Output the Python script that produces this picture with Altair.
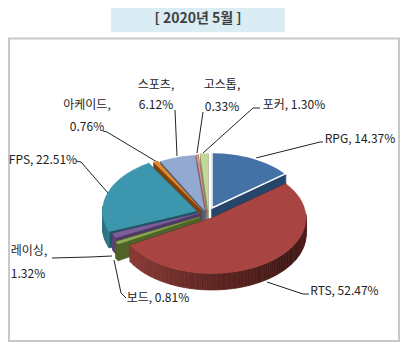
import math
import altair as alt

# ---- chart data -------------------------------------------------
categories = ["RPG", "RTS", "보드", "레이싱", "FPS", "아케이드", "스포츠", "고스톱", "포커"]
shares = [14.37, 52.47, 0.81, 1.32, 22.51, 0.76, 6.12, 0.33, 1.30]
title_text = "[ 2020년 5월 ]"
label_lines = [
    ["RPG, 14.37%"], ["RTS, 52.47%"], ["보드, 0.81%"], ["레이싱,", "1.32%"], ["FPS, 22.51%"],
    ["아케이드,", "0.76%"], ["스포츠,", "6.12%"], ["고스톱,", "0.33%"], ["포커, 1.30%"],
]

# ---- styling / layout -------------------------------------------
W, H = 392, 334
FONT = "Noto Sans CJK KR"
top_colors = ["#4472a6", "#a84542", "#8aab4e", "#7d5f9e", "#3c97ae", "#e58a2e", "#93a9d0", "#d99694", "#c4d79b"]
wall_colors = ["#2b4a6f", "#6a2a27", "#4f6228", "#5a4374", "#2f7485", "#8b4a10", "#5d6f90", "#8f5553", "#7f8f60"]
radial_colors = ["#26456a", "#5a2522", "#4f6228", "#4f3a66", "#1f5666", "#7c4210", "#4d5f80", "#8f5553", "#7f8f60"]
apexes = [(212, 208), (212, 218), (200, 217), (200, 213), (196.5, 211), (201.5, 210), (204.5, 210.5), (206, 210), (208, 209)]
RX, RY, DEPTH = 94, 55.5, 16.5
draw_order = [8, 7, 6, 5, 0, 4, 3, 2, 1]
label_pos = {0: [(360, 139)], 1: [(344.5, 291)], 2: [(158, 298)], 3: [(29, 251), (28, 274)], 4: [(43, 160)],
             5: [(87, 105), (87, 127)], 6: [(156, 85), (156, 105)], 7: [(222, 85), (222, 106.5)], 8: [(294, 105)]}
leaders = {
    0: [(256, 158), (320, 142), (323, 142)],
    1: [(267, 282), (303, 294), (309, 294)],
    2: [(114, 260), (121, 293), (126, 298)],
    3: [(112, 256), (90, 257), (52, 258)],
    4: [(108, 193), (81, 162), (76, 161)],
    5: [(157, 162), (107, 132), (103, 131)],
    6: [(177, 156), (175, 110)],
    7: [(197, 153), (203, 112)],
    8: [(203, 153), (253, 108), (260, 108)],
}


def lerp_hex(a, b, t):
    ca = [int(a[i:i + 2], 16) for i in (1, 3, 5)]
    cb = [int(b[i:i + 2], 16) for i in (1, 3, 5)]
    return "#" + "".join(f"{round(x + (y - x) * t):02x}" for x, y in zip(ca, cb))


def rts_shade(deg):
    stops = [(85, "#5c2623"), (125, "#401815"), (180, "#5f2522"), (240, "#8c3b37")]
    for (d0, c0), (d1, c1) in zip(stops, stops[1:]):
        if deg <= d1:
            return lerp_hex(c0, c1, max(0, (deg - d0) / (d1 - d0)))
    return stops[-1][1]


def rim(i, deg, drop=0.0):
    ax, ay = apexes[i]
    r = math.radians(deg)
    return (ax + RX * math.sin(r) - 8, ay - RY * math.cos(r) + drop - 8)


def poly(points, fill, stroke=None, sw=0.7):
    ring = [list(p) for p in points] + [list(points[0])]
    return {"type": "Feature", "geometry": {"type": "Polygon", "coordinates": [ring]},
            "properties": {"fill": fill, "stroke": stroke or fill, "sw": sw}}


starts = []
c = 0.0
for s in shares:
    starts.append(c)
    c += s
total = sum(shares)
features = []
for i in draw_order:
    a0 = starts[i] / total * 360
    a1 = (starts[i] + shares[i]) / total * 360
    ax, ay = apexes[i][0] - 8, apexes[i][1] - 8
    apex = (ax, ay)
    low = (ax, ay + DEPTH)
    # radial walls
    for deg in (a0, a1):
        features.append(poly([apex, rim(i, deg), rim(i, deg, DEPTH), low], radial_colors[i]))
    # outer wall
    v0, v1 = max(a0, 85), min(a1, 275)
    if v1 > v0:
        n = max(1, int((v1 - v0) / 1.5))
        for k in range(n):
            d0 = v0 + (v1 - v0) * k / n
            d1 = v0 + (v1 - v0) * (k + 1) / n
            col = rts_shade((d0 + d1) / 2) if i == 1 else wall_colors[i]
            features.append(poly([rim(i, d0), rim(i, d1), rim(i, d1, DEPTH), rim(i, d0, DEPTH)], col))
    # top face
    n = max(2, int((a1 - a0) / 2))
    pts = [apex] + [rim(i, a0 + (a1 - a0) * k / n) for k in range(n + 1)]
    if i == 0:
        features.append(poly(pts, top_colors[i], "#ffffff", 1.5))
    else:
        features.append(poly(pts, top_colors[i], sw=0.3))

x_s = alt.Scale(domain=[8, 8 + W], nice=False, zero=False)
y_s = alt.Scale(domain=[8 + H, 8], nice=False, zero=False)
X = alt.X("x:Q", scale=x_s, axis=None)
Y = alt.Y("y:Q", scale=y_s, axis=None)

border = alt.Chart(alt.Data(values=[{"x": 9, "x2": 399, "y": 38.5, "y2": 341}])).mark_rect(
    fill="#ffffff", stroke="#c8c8c8", strokeWidth=2
).encode(x=X, x2="x2:Q", y=Y, y2="y2:Q")
title_box = alt.Chart(alt.Data(values=[{"x": 111, "x2": 285, "y": 8, "y2": 32}])).mark_rect(
    fill="#daecf4"
).encode(x=X, x2="x2:Q", y=Y, y2="y2:Q")
title_mark = alt.Chart(alt.Data(values=[{"x": 198, "y": 19, "t": title_text}])).mark_text(
    font=FONT, fontSize=14, fontWeight="bold", color="#404040"
).encode(x=X, y=Y, text="t:N")

line_rows = []
for i, pts in leaders.items():
    for k, (lx, ly) in enumerate(pts):
        line_rows.append({"s": categories[i], "k": k, "x": lx, "y": ly})
lines = alt.Chart(alt.Data(values=line_rows)).mark_line(color="#222222", strokeWidth=1).encode(
    x=X, y=Y, detail="s:N", order="k:Q"
)

pie = alt.Chart(alt.Data(values=features)).mark_geoshape().encode(
    fill=alt.Fill("properties.fill:N", scale=None, legend=None),
    stroke=alt.Stroke("properties.stroke:N", scale=None, legend=None),
    strokeWidth=alt.StrokeWidth("properties.sw:Q", scale=None, legend=None),
).project(type="identity", scale=1, translate=[0, 0])

text_rows = []
for i, rows in enumerate(label_lines):
    for t, (tx, ty) in zip(rows, label_pos[i]):
        text_rows.append({"x": tx, "y": ty, "t": t})
texts = alt.Chart(alt.Data(values=text_rows)).mark_text(font=FONT, fontSize=12, color="#222222").encode(
    x=X, y=Y, text="t:N"
)

chart = (
    alt.layer(border, title_box, title_mark, lines, pie, texts)
    .properties(width=W, height=H, padding=0, autosize=alt.AutoSizeParams(type="none"), background="#ffffff")
    .configure_view(stroke=None)
)
chart.save("out.html", embed_options={"renderer": "svg", "actions": False})
